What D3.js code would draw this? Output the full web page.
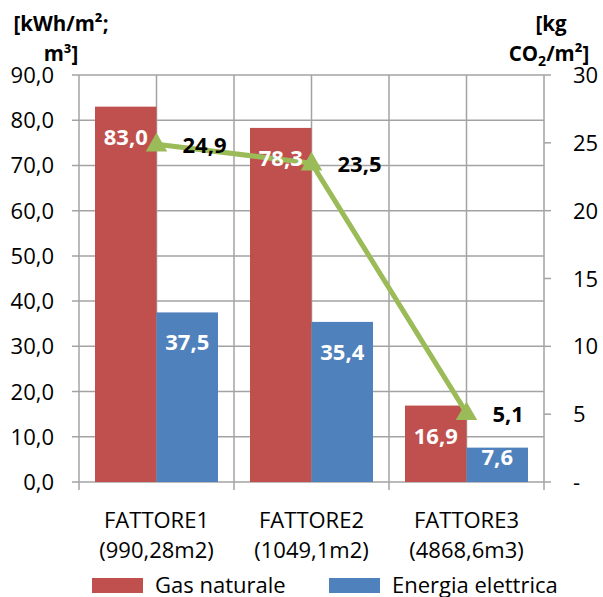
<!DOCTYPE html>
<html>
<head>
<meta charset="utf-8">
<script src="https://cdn.jsdelivr.net/npm/d3@7"></script>
<style>
  body { margin: 0; background: #fff; }
  svg { display: block; font-family: "Open Sans", sans-serif; }
</style>
</head>
<body>
<div id="chart"></div>
<script>
const categories = ['FATTORE1', 'FATTORE2', 'FATTORE3'];
const subLabels = ['(990,28m2)', '(1049,1m2)', '(4868,6m3)'];
const seriesNames = ['Gas naturale', 'Energia elettrica'];
const gasValues = [83.0, 78.3, 16.9];
const elecValues = [37.5, 35.4, 7.6];
const co2Values = [24.9, 23.5, 5.1];
const leftTicks = [0, 10, 20, 30, 40, 50, 60, 70, 80, 90];
const rightTicks = [0, 5, 10, 15, 20, 25, 30];

const width = 603, height = 597;
const margin = { left: 79, right: 59, top: 75, bottom: 115 };
const colors = ['#C0504D', '#4F81BD'];
const lineColor = '#9BBB59';
const gridColor = '#A3A3A3';
const fmt = v => v.toFixed(1).replace('.', ',');

const svg = d3.select('#chart').append('svg')
  .attr('width', width).attr('height', height);

const x0 = d3.scaleBand().domain(categories).range([margin.left, width - margin.right]);
const x1 = d3.scaleBand().domain(seriesNames).range([16, x0.bandwidth() - 16]);
const y = d3.scaleLinear().domain([0, 90]).range([height - margin.bottom, margin.top]);
const y2 = d3.scaleLinear().domain([0, 30]).range([height - margin.bottom, margin.top]);

const plotL = margin.left, plotR = width - margin.right;
const plotT = margin.top, plotB = height - margin.bottom;

// grid
const grid = svg.append('g').attr('stroke', gridColor).attr('stroke-width', 1.5);
grid.selectAll('line.h').data(leftTicks).enter().append('line')
  .attr('x1', plotL - 7).attr('x2', plotR)
  .attr('y1', d => y(d)).attr('y2', d => y(d));
const vLines = [];
categories.forEach(c => { vLines.push(x0(c) + x0.bandwidth() / 2); });
categories.forEach(c => { vLines.push(x0(c)); });
vLines.push(plotR);
grid.selectAll('line.v').data(vLines).enter().append('line')
  .attr('x1', d => d).attr('x2', d => d)
  .attr('y1', plotT).attr('y2', plotB);
// x ticks at category boundaries
grid.selectAll('line.xt').data(categories.map(c => x0(c)).concat([plotR])).enter().append('line')
  .attr('x1', d => d).attr('x2', d => d)
  .attr('y1', plotB).attr('y2', plotB + 8);
// right ticks
grid.selectAll('line.rt').data(rightTicks).enter().append('line')
  .attr('x1', plotR).attr('x2', plotR + 7)
  .attr('y1', d => y2(d)).attr('y2', d => y2(d));

// bars
const data = categories.map((c, i) => ({ cat: c, vals: [gasValues[i], elecValues[i]] }));
const groups = svg.selectAll('g.cat').data(data).enter().append('g')
  .attr('transform', d => 'translate(' + x0(d.cat) + ',0)');
groups.selectAll('rect').data(d => d.vals.map((v, j) => ({ name: seriesNames[j], v, j })))
  .enter().append('rect')
  .attr('x', d => x1(d.name))
  .attr('width', x1.bandwidth())
  .attr('y', d => y(d.v))
  .attr('height', d => y(0) - y(d.v))
  .attr('fill', d => colors[d.j]);

// line series
const pts = categories.map((c, i) => [x0(c) + x0.bandwidth() / 2, y2(co2Values[i])]);
svg.append('path')
  .attr('d', d3.line()(pts))
  .attr('fill', 'none')
  .attr('stroke', lineColor)
  .attr('stroke-width', 5)
  .attr('stroke-linejoin', 'round');
svg.selectAll('path.mk').data(pts).enter().append('path')
  .attr('d', d3.symbol(d3.symbolTriangle, 200)())
  .attr('transform', d => 'translate(' + d[0] + ',' + (d[1] + 1) + ')')
  .attr('fill', lineColor);

// bar labels (drawn over the line)
const labelG = svg.selectAll('g.lab').data(data).enter().append('g')
  .attr('transform', d => 'translate(' + x0(d.cat) + ',0)');
labelG.selectAll('text').data(d => d.vals.map((v, j) => ({ name: seriesNames[j], v, j })))
  .enter().append('text')
  .attr('x', d => x1(d.name) + x1.bandwidth() / 2)
  .attr('y', d => (y(0) - y(d.v) > 45 ? y(d.v) + 38 : y(d.v) + 17))
  .attr('text-anchor', 'middle')
  .attr('fill', '#fff')
  .attr('font-weight', 'bold')
  .attr('font-size', 22)
  .text(d => fmt(d.v));

svg.selectAll('text.ll').data(co2Values).enter().append('text')
  .attr('x', (d, i) => pts[i][0] + 26)
  .attr('y', (d, i) => pts[i][1] + 9)
  .attr('font-weight', 'bold')
  .attr('font-size', 22)
  .attr('fill', '#000')
  .text(d => fmt(d));

// left axis labels
svg.selectAll('text.yl').data(leftTicks).enter().append('text')
  .attr('x', 54).attr('y', d => y(d) + 8)
  .attr('text-anchor', 'end')
  .attr('font-size', 22)
  .attr('fill', '#000')
  .text(d => fmt(d));
// right axis labels
svg.selectAll('text.yr').data(rightTicks).enter().append('text')
  .attr('x', 573).attr('y', d => y2(d) + 8)
  .attr('font-size', 22)
  .attr('fill', '#000')
  .text(d => d === 0 ? '-' : d);

// category labels
svg.selectAll('text.c1').data(categories).enter().append('text')
  .attr('x', d => x0(d) + x0.bandwidth() / 2).attr('y', 528)
  .attr('text-anchor', 'middle').attr('font-size', 22).attr('fill', '#000')
  .text(d => d);
svg.selectAll('text.c2').data(subLabels).enter().append('text')
  .attr('x', (d, i) => x0(categories[i]) + x0.bandwidth() / 2).attr('y', 558)
  .attr('text-anchor', 'middle').attr('font-size', 22).attr('fill', '#000')
  .text(d => d);

// axis titles
const t1 = svg.append('g').attr('font-weight', 'bold').attr('font-size', 20.5)
  .attr('text-anchor', 'middle').attr('fill', '#000');
t1.append('text').attr('x', 61).attr('y', 31).text('[kWh/m²;');
t1.append('text').attr('x', 61).attr('y', 61).text('m³]');
t1.append('text').attr('x', 551).attr('y', 31).text('[kg');
const co2 = t1.append('text').attr('x', 549).attr('y', 61);
co2.append('tspan').text('CO');
co2.append('tspan').attr('font-size', 14).attr('dy', 5).text('2');
co2.append('tspan').attr('dy', -5).text('/m²]');

// legend
const legX = [92, 329];
const leg = svg.selectAll('g.leg').data(seriesNames).enter().append('g')
  .attr('transform', (d, i) => 'translate(' + legX[i] + ',578)');
leg.append('rect').attr('width', 51).attr('height', 15).attr('fill', (d, i) => colors[i]);
leg.append('text').attr('x', 63).attr('y', 15).attr('font-size', 22).attr('fill', '#000').text(d => d);
</script>
</body>
</html>
